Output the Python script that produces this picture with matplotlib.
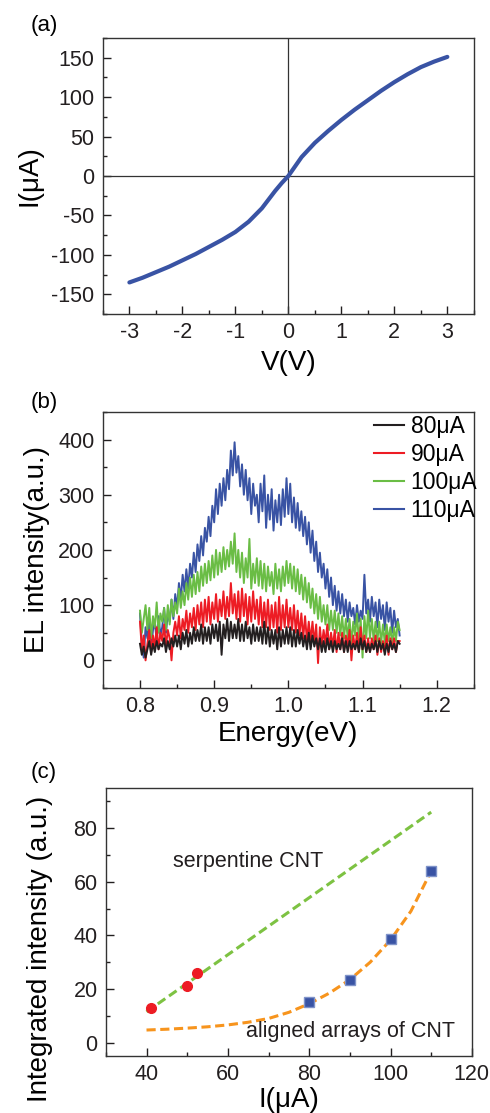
import numpy as np
import matplotlib
matplotlib.use("Agg")
import matplotlib.pyplot as plt
from matplotlib.ticker import MultipleLocator

plt.rcParams['font.family'] = ['Liberation Sans', 'DejaVu Sans']
plt.rcParams['mathtext.default'] = 'regular'
plt.rcParams['axes.unicode_minus'] = False

# ---------------- (a) I-V data ----------------
iv_v = [-3.0, -2.75, -2.5, -2.25, -2.0, -1.75, -1.5, -1.25, -1.0, -0.75, -0.5, -0.375, -0.25, -0.125,
        0.0, 0.125, 0.25, 0.375, 0.5, 0.75, 1.0, 1.25, 1.5, 1.75, 2.0, 2.25, 2.5, 2.75, 3.0]
iv_i = [-135, -129, -122, -115, -107, -99, -90, -81, -71, -58, -41, -30, -19, -9,
        0, 12, 24, 33, 42, 57, 71, 84, 96, 108, 119, 129, 138, 145, 151]

# ---------------- (b) EL spectra ----------------
energy = [round(0.80 + 0.0025 * k, 4) for k in range(141)]
el_110 = [85, 30, 5, 60, 40, 75, 20, 55, 70, 35, 80, 45, 60, 95, 50, 85,
          70, 110, 75, 120, 95, 140, 110, 155, 125, 165, 130, 175, 150, 195, 160, 210,
          180, 225, 190, 240, 215, 260, 225, 280, 250, 310, 265, 320, 280, 330, 290, 345,
          310, 380, 335, 395, 340, 370, 315, 355, 300, 345, 290, 330, 265, 320, 280, 300,
          250, 320, 270, 335, 240, 300, 255, 310, 235, 290, 250, 300, 245, 310, 260, 330,
          265, 320, 250, 295, 240, 285, 235, 270, 225, 260, 210, 250, 195, 235, 180, 215,
          160, 195, 150, 175, 130, 165, 115, 150, 100, 135, 90, 125, 85, 120, 80, 110,
          70, 105, 80, 95, 65, 100, 70, 90, 75, 155, 85, 110, 70, 115, 80, 105,
          60, 110, 75, 100, 55, 105, 70, 95, 50, 90, 60, 75, 45]
el_100 = [90, 50, 75, 100, 55, 95, 40, 80, 60, 105, 50, 85, 70, 95, 55, 100,
          65, 110, 80, 105, 85, 130, 95, 125, 100, 140, 110, 150, 115, 155, 120, 160,
          125, 170, 135, 175, 140, 180, 145, 190, 150, 200, 155, 195, 160, 205, 165, 200,
          170, 215, 175, 230, 160, 200, 150, 195, 140, 185, 150, 220, 130, 175, 140, 185,
          135, 180, 130, 175, 125, 170, 135, 160, 120, 175, 130, 165, 125, 170, 135, 180,
          140, 175, 130, 170, 125, 165, 120, 155, 110, 150, 105, 140, 95, 130, 85, 120,
          75, 115, 70, 100, 65, 100, 55, 90, 55, 90, 50, 85, 45, 80, 40, 75,
          40, 75, 30, 70, 45, 85, 35, 75, 5, 80, 40, 90, 40, 75, 35, 70,
          35, 70, 30, 65, 30, 65, 35, 60, 30, 60, 35, 70, 55]
el_90 = [70, 20, 45, 0, 30, 55, 15, 45, 25, 60, 20, 50, 35, 65, 25, 55,
         40, 0, 50, 70, 45, 80, 40, 75, 55, 90, 50, 85, 60, 95, 55, 100,
         65, 105, 60, 110, 70, 115, 65, 105, 75, 120, 70, 110, 80, 125, 75, 115,
         80, 140, 85, 120, 75, 125, 70, 130, 80, 120, 65, 115, 70, 125, 75, 110,
         65, 115, 60, 105, 60, 110, 55, 100, 60, 105, 50, 115, 55, 100, 60, 110,
         60, 95, 55, 100, 50, 90, 45, 85, 40, 80, 35, 70, 35, 70, 30, 65,
         -5, 60, 25, 55, 30, 65, 20, 50, 25, 55, 15, 50, 20, 50, 15, 45,
         25, 55, 0, 45, 20, 50, 15, 60, 20, 45, 15, 40, 15, 40, 20, 45,
         10, 40, 15, 35, 15, 45, 10, 40, 20, 40, 15, 35, 35]
el_80 = [30, 10, 25, 5, 20, 35, 10, 30, 15, 35, 20, 30, 25, 40, 15, 35,
         20, 40, 25, 45, 25, 45, 20, 50, 30, 55, 25, 50, 30, 60, 35, 55,
         35, 65, 30, 60, 35, 60, 30, 65, 40, 65, 35, 70, 10, 65, 40, 75,
         35, 70, 40, 65, 40, 75, 35, 65, 35, 70, 40, 60, 30, 65, 35, 60,
         35, 60, 30, 70, 30, 60, 25, 55, 30, 55, 20, 60, 25, 55, 30, 60,
         30, 60, 25, 55, 25, 55, 30, 50, 25, 45, 20, 50, 20, 45, 25, 40,
         20, 40, 15, 35, 15, 40, 20, 35, 15, 35, 20, 30, 20, 40, 15, 35,
         15, 35, 20, 30, 20, 35, 15, 40, 20, 35, 15, 30, 15, 30, 20, 35,
         15, 35, 20, 30, 10, 30, 15, 35, 20, 30, 15, 35, 30]
el_labels = ['80\u03bcA', '90\u03bcA', '100\u03bcA', '110\u03bcA']

# ---------------- (c) integrated intensity ----------------
serp_i = [41, 50, 52.5]
serp_int = [13, 21, 26]
serp_fit_i = [40, 110]
serp_fit = [11.5, 86]
align_i = [80, 90, 100, 110]
align_int = [15.3, 23.5, 38.7, 64]
align_fit_i = [40, 45, 50, 55, 60, 65, 70, 75, 80, 85, 90, 95, 100, 105, 110]
align_fit = [4.7, 5.0, 5.4, 5.9, 6.6, 7.6, 9.0, 11.3, 14.5, 18.5, 23.5, 30.0, 38.3, 49.0, 64.0]

BLUE = '#3953a4'
GREEN = '#6abd45'
RED = '#ed1c24'
BLACK = '#231f20'
ORANGE = '#f7941d'
LGREEN = '#7dc242'

fig = plt.figure(figsize=(4.90, 11.13), dpi=100)
TICK_FS = 15.5
LAB_FS = 20


def style(ax):
    for s in ax.spines.values():
        s.set_linewidth(1.0)
        s.set_color('#333333')
    ax.tick_params(which='both', direction='in', top=False, right=False,
                   labelsize=TICK_FS, colors='#231f20', width=1.0, pad=6)
    ax.tick_params(which='major', length=6)
    ax.tick_params(which='minor', length=3)


# (a)
ax1 = fig.add_axes([0.210, 0.7179, 0.757, 0.248])
ax1.axhline(0, color='#333333', lw=0.9)
ax1.axvline(0, color='#333333', lw=0.9)
ax1.plot(iv_v, iv_i, color=BLUE, lw=3.0, solid_capstyle='round')
ax1.set_xlim(-3.5, 3.5)
ax1.set_ylim(-175, 175)
ax1.xaxis.set_major_locator(MultipleLocator(1))
ax1.xaxis.set_minor_locator(MultipleLocator(0.5))
ax1.yaxis.set_major_locator(MultipleLocator(50))
ax1.yaxis.set_minor_locator(MultipleLocator(25))
style(ax1)
ax1.set_xlabel('V(V)', fontsize=LAB_FS, labelpad=5)
ax1.set_ylabel('I(\u03bcA)', fontsize=LAB_FS, labelpad=6)
fig.text(0.062, 0.977, '(a)', fontsize=16, ha='left', va='center')

# (b)
ax2 = fig.add_axes([0.210, 0.3819, 0.757, 0.248])
for y, c, lab in [(el_80, BLACK, el_labels[0]), (el_90, RED, el_labels[1]),
                  (el_100, GREEN, el_labels[2]), (el_110, BLUE, el_labels[3])]:
    ax2.plot(energy, y, color=c, lw=1.4, label=lab)
lines = ax2.get_lines()
for z, ln in zip([5, 4, 3, 2], lines):
    ln.set_zorder(z)
ax2.set_xlim(0.75, 1.25)
ax2.set_ylim(-50, 450)
ax2.xaxis.set_major_locator(MultipleLocator(0.1))
ax2.xaxis.set_minor_locator(MultipleLocator(0.05))
ax2.yaxis.set_major_locator(MultipleLocator(100))
ax2.yaxis.set_minor_locator(MultipleLocator(50))
ax2.xaxis.set_major_formatter(matplotlib.ticker.FormatStrFormatter('%.1f'))
style(ax2)
ax2.set_xlabel('Energy(eV)', fontsize=LAB_FS, labelpad=3)
ax2.set_ylabel('EL intensity(a.u.)', fontsize=LAB_FS, labelpad=6)
leg = ax2.legend(loc='upper right', bbox_to_anchor=(1.065, 1.065), frameon=False,
                 fontsize=16.5, handlelength=1.3, handletextpad=0.3, labelspacing=0.22)
for lh in leg.get_lines():
    lh.set_linewidth(1.5)
fig.text(0.062, 0.6385, '(b)', fontsize=16, ha='left', va='center')

# (c)
ax3 = fig.add_axes([0.216, 0.0512, 0.747, 0.2408])
ax3.plot(serp_fit_i, serp_fit, color=LGREEN, lw=2.2, ls=(0, (3, 1.5)), zorder=2)
ax3.plot(align_fit_i, align_fit, color=ORANGE, lw=2.2, ls=(0, (3, 1.5)), zorder=2)
ax3.plot(serp_i, serp_int, 'o', color=RED, ms=7, zorder=3)
ax3.plot(align_i, align_int, 's', color=BLUE, mec='#7f93c9', mew=1.0, ms=6.5, zorder=3)
ax3.set_xlim(30, 120)
ax3.set_ylim(-5, 95)
ax3.xaxis.set_major_locator(MultipleLocator(20))
ax3.xaxis.set_minor_locator(MultipleLocator(10))
ax3.yaxis.set_major_locator(MultipleLocator(20))
ax3.yaxis.set_minor_locator(MultipleLocator(10))
style(ax3)
ax3.set_xlabel('I(\u03bcA)', fontsize=LAB_FS, labelpad=1)
ax3.set_ylabel('Integrated intensity (a.u.)', fontsize=LAB_FS)
ax3.yaxis.set_label_coords(-0.145, 0.40)
ax3.text(46.6, 67.7, 'serpentine CNT', fontsize=TICK_FS, ha='left', va='center', color=BLACK)
ax3.text(64.4, 4.3, 'aligned arrays of CNT', fontsize=TICK_FS, ha='left', va='center', color=BLACK)
fig.text(0.062, 0.3055, '(c)', fontsize=16, ha='left', va='center')

fig.savefig('out.png', dpi=100)
